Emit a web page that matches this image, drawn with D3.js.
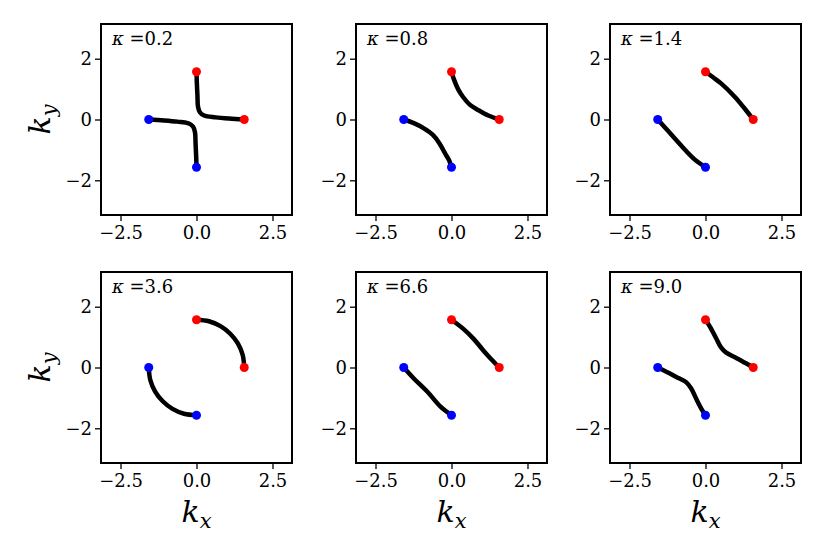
<!DOCTYPE html>
<html>
<head>
<meta charset="utf-8">
<script src="https://cdn.jsdelivr.net/npm/d3@7"></script>
<style>
  body { margin: 0; background: #fff; }
  text { font-family: "DejaVu Serif", serif; fill: #000; }
</style>
</head>
<body>
<div id="the_chart"></div>
<script>
// kappa value of each panel, row by row
var kappas = [0.2, 0.8, 1.4, 3.6, 6.6, 9.0];

// end points (same in every panel)
var redPoints = [[0, 1.5708], [1.5708, 0]];
var bluePoints = [[-1.5708, 0], [0, -1.5708]];

// curves, [kx, ky]
var upper02 = [[0, 1.57], [0.01, 1.24], [0.03, 0.81], [0.05, 0.42], [0.11, 0.24], [0.25, 0.13], [0.63, 0.07], [1.07, 0.03], [1.57, 0]];
var lower02 = [[-1.57, 0], [-1.07, -0.03], [-0.63, -0.07], [-0.25, -0.13], [-0.11, -0.24], [-0.05, -0.42], [-0.03, -0.81], [-0.01, -1.24], [0, -1.57]];

var upper08 = [[0, 1.57], [0.08, 1.32], [0.22, 0.99], [0.38, 0.74], [0.60, 0.49], [0.88, 0.31], [1.21, 0.13], [1.57, 0]];
var lower08 = [[-1.57, 0], [-1.24, -0.12], [-0.91, -0.29], [-0.62, -0.50], [-0.40, -0.78], [-0.22, -1.10], [-0.08, -1.34], [0, -1.57]];

var upper14 = [[0, 1.57], [0.26, 1.38], [0.52, 1.18], [0.96, 0.75], [1.28, 0.37], [1.57, 0]];
var lower14 = [[-1.57, 0], [-1.22, -0.39], [-0.78, -0.88], [-0.35, -1.32], [0, -1.57]];

var upper36 = [[0, 1.57], [0.41, 1.52], [0.79, 1.36], [1.11, 1.11], [1.36, 0.79], [1.52, 0.41], [1.57, 0]];
var lower36 = [[-1.57, 0], [-1.52, -0.41], [-1.36, -0.79], [-1.11, -1.11], [-0.79, -1.36], [-0.41, -1.52], [0, -1.57]];

var upper66 = [[0, 1.57], [0.39, 1.27], [0.72, 0.95], [1.04, 0.57], [1.30, 0.28], [1.57, 0]];
var lower66 = [[-1.57, 0], [-1.24, -0.36], [-0.80, -0.79], [-0.37, -1.28], [0, -1.57]];

var upper90 = [[0, 1.57], [0.15, 1.34], [0.35, 0.96], [0.51, 0.66], [0.68, 0.49], [1.0, 0.32], [1.33, 0.14], [1.57, 0]];
var lower90 = [[-1.57, 0], [-1.29, -0.14], [-0.96, -0.31], [-0.63, -0.49], [-0.47, -0.69], [-0.31, -1.02], [-0.14, -1.35], [0, -1.57]];

var curves = [
    [upper02, lower02], [upper08, lower08], [upper14, lower14],
    [upper36, lower36], [upper66, lower66], [upper90, lower90]
];

var xTicks = [-2.5, 0, 2.5];
var yTicks = [-2, 0, 2];

function gen_vis() {
    var w = 830, h = 554;
    var size = 191;
    var lefts = [101, 356, 610];
    var tops = [24, 272];
    var serif = "'DejaVu Serif', serif";

    var svg = d3.select("#the_chart").append("svg")
        .attr("width", w)
        .attr("height", h);

    var xscale = d3.scaleLinear().domain([-Math.PI, Math.PI]).range([0, size]);
    var yscale = d3.scaleLinear().domain([-Math.PI, Math.PI]).range([size, 0]);

    var line = d3.line()
        .x(function (d) { return xscale(d[0]); })
        .y(function (d) { return yscale(d[1]); })
        .curve(d3.curveCatmullRom.alpha(0.5));

    kappas.forEach(function (k, i) {
        var col = i % 3, row = Math.floor(i / 3);
        var g = svg.append("g")
            .attr("transform", "translate(" + lefts[col] + "," + tops[row] + ")");

        var xaxis = d3.axisBottom(xscale).tickValues(xTicks)
            .tickFormat(d3.format(".1f")).tickSize(6).tickSizeOuter(0);
        var yaxis = d3.axisLeft(yscale).tickValues(yTicks)
            .tickFormat(d3.format("d")).tickSize(6).tickSizeOuter(0);

        var gx = g.append("g").attr("transform", "translate(0," + size + ")").call(xaxis);
        var gy = g.append("g").call(yaxis);
        [gx, gy].forEach(function (a) {
            a.attr("font-family", null).attr("font-size", null);
            a.select(".domain").remove();
            a.selectAll(".tick line").attr("stroke", "#000").attr("stroke-width", 1.3);
            a.selectAll(".tick text")
                .style("font-family", serif)
                .style("font-size", "18px");
        });
        gx.selectAll(".tick text").attr("dy", "0.95em").attr("y", 7);
        gy.selectAll(".tick text").attr("x", -9);

        curves[i].forEach(function (c) {
            g.append("path")
                .datum(c)
                .attr("d", line)
                .attr("fill", "none")
                .attr("stroke", "#000")
                .attr("stroke-width", 4.5)
                .attr("stroke-linecap", "round");
        });

        g.selectAll("circle.red").data(redPoints).enter().append("circle")
            .attr("class", "red")
            .attr("cx", function (d) { return xscale(d[0]); })
            .attr("cy", function (d) { return yscale(d[1]); })
            .attr("r", 4.5).attr("fill", "#ff0000");
        g.selectAll("circle.blue").data(bluePoints).enter().append("circle")
            .attr("class", "blue")
            .attr("cx", function (d) { return xscale(d[0]); })
            .attr("cy", function (d) { return yscale(d[1]); })
            .attr("r", 4.5).attr("fill", "#0000ff");

        g.append("rect")
            .attr("width", size).attr("height", size)
            .attr("fill", "none").attr("stroke", "#000").attr("stroke-width", 2);

        var lab = g.append("text").attr("x", 11).attr("y", 21)
            .style("font-family", serif).style("font-size", "18px");
        lab.append("tspan").style("font-style", "italic").text("κ");
        lab.append("tspan").text(" =" + d3.format(".1f")(k));

        if (row === 1) {
            var kx = g.append("text")
                .attr("x", size / 2).attr("y", 250)
                .attr("text-anchor", "middle")
                .style("font-family", serif)
                .style("font-size", "30px").style("font-style", "italic");
            kx.append("tspan").text("k");
            kx.append("tspan").attr("dy", 6).style("font-size", "21px").text("x");
        }
        if (col === 0) {
            var ky = g.append("text")
                .attr("transform", "translate(-51," + (size / 2) + ") rotate(-90)")
                .attr("text-anchor", "middle")
                .style("font-family", serif)
                .style("font-size", "30px").style("font-style", "italic");
            ky.append("tspan").text("k");
            ky.append("tspan").attr("dy", 6).style("font-size", "21px").text("y");
        }
    });
}

gen_vis();
</script>
</body>
</html>
